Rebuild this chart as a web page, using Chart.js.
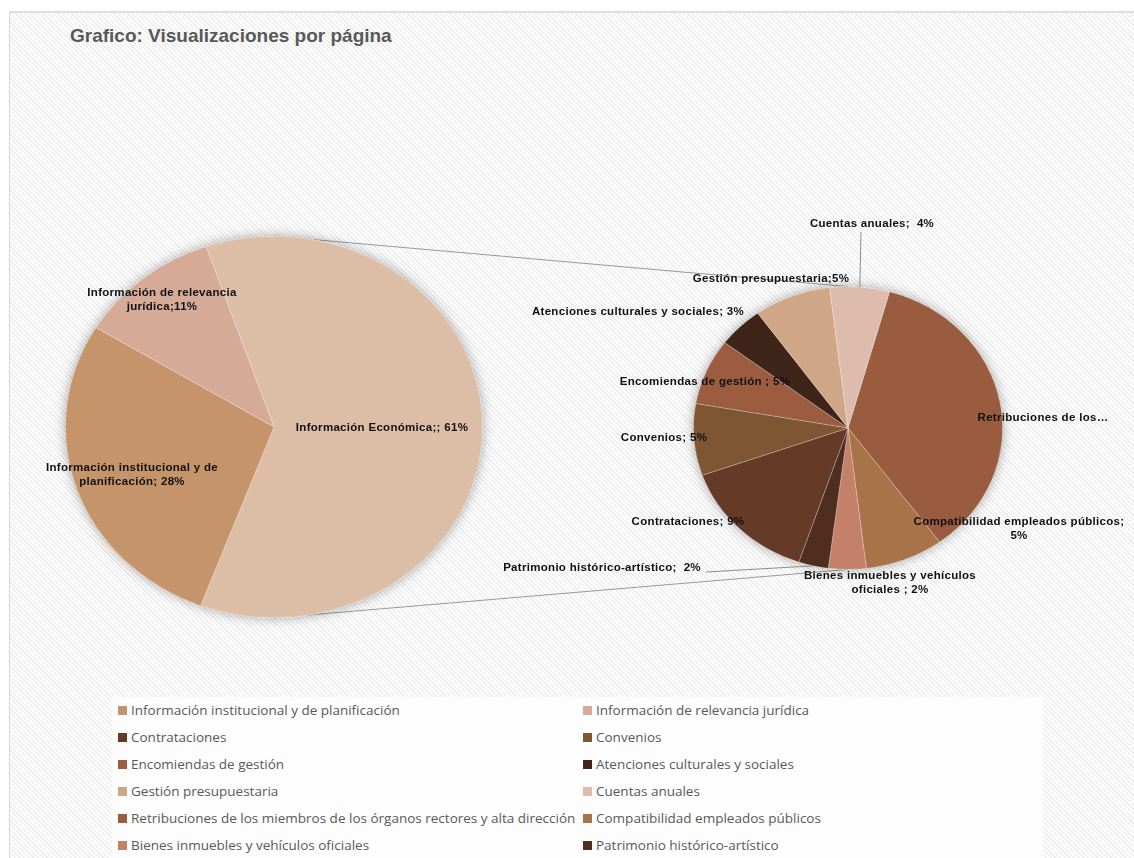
<!DOCTYPE html>
<html>
<head>
<meta charset="utf-8">
<script src="https://cdn.jsdelivr.net/npm/chart.js@4.4.0/dist/chart.umd.min.js"></script>
<style>
    body { margin: 0; background: #fff; }
    #wrap { position: relative; width: 1134px; height: 858px; overflow: hidden; }
    #frame {
        position: absolute; left: 9px; top: 11px; right: -3px; bottom: -3px;
        border-left: 1px solid #d9d9d9; border-top: 2px solid #dedede;
        background: repeating-linear-gradient(45deg, #ffffff 0px, #ffffff 1.7px, #efefef 1.7px, #efefef 3.3px);
    }
    canvas { position: absolute; left: 0; top: 0; }
    #title { position: absolute; left: 70px; top: 25px; font: bold 19px "Liberation Sans", Arial, sans-serif; color: #595959; }
    #legend { position: absolute; left: 112px; top: 697px; width: 931px; height: 161px; background: #fdfdfd; }
    .item { position: absolute; display: flex; align-items: center; height: 18px; font: 13.5px "Open Sans", sans-serif; color: #595959; white-space: nowrap; }
    .item .box { display: inline-block; width: 9px; height: 9px; margin-right: 4px; }
</style>
</head>
<body>
<div id="wrap">
    <div id="frame"></div>
    <div id="title">Grafico: Visualizaciones por página</div>
    <div id="legend"></div>
    <canvas id="PieMain" width="1134" height="858"></canvas>
    <canvas id="PieDetail" width="1134" height="858"></canvas>
</div>
<script>

// first pie (share of total, %)
var mainLabels = ['Información Económica', 'Información institucional y de planificación', 'Información de relevancia jurídica'];
var mainValues = [61, 28, 11];
var mainColors = ['#DCBEA6', '#C5946A', '#D5AA97'];
var mainTexts = ['Información Económica;; {v}%', 'Información institucional y de\nplanificación; {v}%', 'Información de relevancia\njurídica;{v}%'];

// second pie: breakdown of "Información Económica" (share of total, %)
var detailLabels = ['Retribuciones de los miembros de los órganos rectores y alta dirección', 'Compatibilidad empleados públicos',
    'Bienes inmuebles y vehículos oficiales', 'Patrimonio histórico-artístico', 'Contrataciones', 'Convenios',
    'Encomiendas de gestión', 'Atenciones culturales y sociales', 'Gestión presupuestaria', 'Cuentas anuales'];
var detailValues = [21.7, 5.0, 2.4, 1.9, 8.8, 5.0, 4.6, 2.9, 4.9, 3.8];
var detailColors = ['#9A5C3E', '#A9734A', '#C48068', '#4F2E20', '#653B28', '#7E5633', '#9B5C40', '#3E2419', '#D0A786', '#DEBCAD'];
var detailTexts = ['Retribuciones de los…', 'Compatibilidad empleados públicos;\n{v}%', 'Bienes inmuebles y vehículos\noficiales ; {v}%',
    'Patrimonio histórico-artístico;  {v}%', 'Contrataciones; {v}%', 'Convenios; {v}%', 'Encomiendas de gestión ; {v}%',
    'Atenciones culturales y sociales; {v}%', 'Gestión presupuestaria;{v}%', 'Cuentas anuales;  {v}%'];

var legendOrder = ['Información institucional y de planificación', 'Información de relevancia jurídica', 'Contrataciones', 'Convenios',
    'Encomiendas de gestión', 'Atenciones culturales y sociales', 'Gestión presupuestaria', 'Cuentas anuales',
    'Retribuciones de los miembros de los órganos rectores y alta dirección', 'Compatibilidad empleados públicos',
    'Bienes inmuebles y vehículos oficiales', 'Patrimonio histórico-artístico'];

// label placement, offsets from the pie centre
var mainTextPos = [[108, 1], [-142, 48], [-112, -127]];
var detailTextPos = [[195, -10], [171, 101], [42, 155], [-246, 140], [-160, 94], [-184, 10], [-143, -46], [-210, -116], [-77, -149], [24, -204]];
var detailLeaders = { 3: [-142, 144], 9: [13, -196] };

var SQUASH = 0.915;
var detailChart;

function pieLook(texts, values, pos, leaders) {
    return {
        id: 'pieLook',
        beforeDatasetsDraw: function (chart) {
            var arc = chart.getDatasetMeta(0).data[0];
            var c = chart.ctx;
            c.save();
            c.shadowColor = 'rgba(0,0,0,0.35)';
            c.shadowBlur = 12;
            c.fillStyle = '#ffffff';
            c.beginPath();
            c.ellipse(arc.x, arc.y, arc.outerRadius, arc.outerRadius * SQUASH, 0, 0, 2 * Math.PI);
            c.fill();
            c.restore();
            c.save();
            c.translate(arc.x, arc.y);
            c.scale(1, SQUASH);
            c.translate(-arc.x, -arc.y);
        },
        afterDatasetsDraw: function (chart) {
            var c = chart.ctx;
            c.restore();
            var arcs = chart.getDatasetMeta(0).data;
            var cx = arcs[0].x, cy = arcs[0].y;

            c.save();
            c.strokeStyle = '#8c8c8c';
            c.lineWidth = 1;
            Object.keys(leaders).forEach(function (k) {
                var arc = arcs[k];
                var mid = (arc.startAngle + arc.endAngle) / 2;
                c.beginPath();
                c.moveTo(cx + leaders[k][0], cy + leaders[k][1]);
                c.lineTo(cx + Math.cos(mid) * arc.outerRadius, cy + Math.sin(mid) * arc.outerRadius * SQUASH);
                c.stroke();
            });

            c.font = 'bold 11.5px "Liberation Sans", Arial, sans-serif';
            c.letterSpacing = '0.3px';
            c.fillStyle = '#111111';
            c.textAlign = 'center';
            c.textBaseline = 'middle';
            arcs.forEach(function (arc, i) {
                var lines = texts[i].replace('{v}', Math.round(values[i])).split('\n');
                var x = cx + pos[i][0];
                var y = cy + pos[i][1] - (lines.length - 1) * 7;
                lines.forEach(function (t, k) {
                    c.fillText(t, x, y + k * 14);
                });
            });
            c.restore();
        }
    };
}

// lines joining the two pies, drawn under the first pie
var connectors = {
    id: 'connectors',
    beforeDatasetsDraw: function (chart) {
        var a = chart.getDatasetMeta(0).data[0];
        var b = detailChart.getDatasetMeta(0).data[0];
        var c = chart.ctx;
        c.save();
        c.strokeStyle = '#999999';
        c.lineWidth = 1;
        c.beginPath();
        c.moveTo(a.x, a.y - a.outerRadius * SQUASH);
        c.lineTo(b.x, b.y - b.outerRadius * SQUASH);
        c.moveTo(a.x, a.y + a.outerRadius * SQUASH);
        c.lineTo(b.x, b.y + b.outerRadius * SQUASH);
        c.stroke();
        c.restore();
    }
};

function pieOptions(rotation, padding) {
    return {
        responsive: false,
        animation: false,
        rotation: rotation,
        layout: { padding: padding },
        plugins: {
            legend: { display: false },
            tooltip: { enabled: false }
        }
    };
}

detailChart = new Chart(document.getElementById('PieDetail').getContext('2d'), {
    type: 'pie',
    data: {
        labels: detailLabels,
        datasets: [{
            data: detailValues,
            backgroundColor: detailColors,
            borderColor: 'rgba(255,255,255,0.3)',
            borderWidth: 0.8
        }]
    },
    options: pieOptions(15.6, { left: 693, right: 131, top: 273, bottom: 275 }),
    plugins: [pieLook(detailTexts, detailValues, detailTextPos, detailLeaders)]
});

var mainChart = new Chart(document.getElementById('PieMain').getContext('2d'), {
    type: 'pie',
    data: {
        labels: mainLabels,
        datasets: [{
            data: mainValues,
            backgroundColor: mainColors,
            borderColor: 'rgba(255,255,255,0.3)',
            borderWidth: 0.8
        }]
    },
    options: pieOptions(-19, { left: 65, right: 651, top: 218, bottom: 222 }),
    plugins: [connectors, pieLook(mainTexts, mainValues, mainTextPos, {})]
});

// legend: two columns, Excel order
var colorOf = {};
mainLabels.forEach(function (n, i) { colorOf[n] = mainColors[i]; });
detailLabels.forEach(function (n, i) { colorOf[n] = detailColors[i]; });

var legendEl = document.getElementById('legend');
legendOrder.forEach(function (name, i) {
    var div = document.createElement('div');
    div.className = 'item';
    div.style.left = (i % 2 == 0 ? 6 : 471) + 'px';
    div.style.top = (Math.floor(i / 2) * 27 + 4) + 'px';
    div.innerHTML = '<span class="box" style="background:' + colorOf[name] + '"></span>' + name;
    legendEl.appendChild(div);
});

</script>
</body>
</html>
